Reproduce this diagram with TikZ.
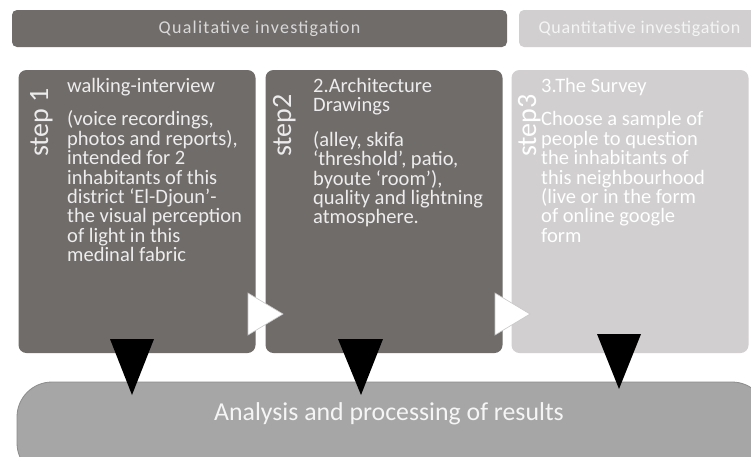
\documentclass[tikz,border=0pt]{standalone}
\usepackage{fontspec}
\setmainfont{Carlito}

\definecolor{stepdark}{RGB}{112,108,106}
\definecolor{steplight}{RGB}{209,207,208}
\definecolor{resultgray}{RGB}{166,166,166}

\tikzset{
  stepbox/.style={rectangle, rounded corners=8pt, minimum width=237pt, minimum height=283pt, inner sep=0pt},
  headbar/.style={rectangle, rounded corners=5pt, minimum height=37pt, inner sep=0pt, font=\fontsize{18}{20}\selectfont},
  steplabel/.style={rotate=90, anchor=base west, inner sep=0pt, font=\fontsize{28}{28}\selectfont, text=white!92!black},
  steptext/.style={anchor=north west, inner sep=0pt, align=left, font=\fontsize{20.5}{19.4}\selectfont, text=white!93!black},
  downtip/.style={fill=black},
  righttip/.style={fill=white, draw=black!22, line width=0.6pt}
}

\begin{document}
\begin{tikzpicture}[x=1pt,y=-1pt]
\clip (0,0) rectangle (751,456);
\fill[white] (0,0) rectangle (751,456);

\node[headbar, fill=stepdark, minimum width=495pt, text=white!85!black] (qual) at (259.5,28.5) {\addfontfeature{LetterSpace=7}Qualitative investigation};
\node[headbar, fill=steplight, minimum width=241pt, text=white!96!black] (quant) at (639.5,28.5) {\addfontfeature{LetterSpace=4}Quantitative investigation};

\node[rectangle, rounded corners=35pt, fill=resultgray, draw=black!45, line width=0.8pt, minimum width=750pt, minimum height=96pt] (resultbar) at (392,430) {};
\node[font=\fontsize{25.8}{26}\selectfont, text=white!96!black] (results) at (389,414) {Analysis and processing of results};

\node[stepbox, fill=stepdark] (box1) at (137,211.5) {};
\node[stepbox, fill=stepdark] (box2) at (384,211.5) {};
\node[stepbox, fill=steplight] (box3) at (630,211.5) {};

\node[steplabel] (lab1) at (48,157) {step 1};
\node[steplabel] (lab2) at (291,157) {step2};
\node[steplabel, text=white] (lab3) at (536,157) {step3};

\node[steptext] (txt1) at (67,78) {walking-interview\\[14pt]
  (voice recordings,\\photos and reports),\\intended for 2\\inhabitants of this\\
  district ‘El-Djoun’-\\the visual perception\\of light in this\\medinal fabric};
\node[steptext] (txt2) at (313,78) {2.Architecture\\Drawings\\[15pt]
  (alley, skifa\\‘threshold’, patio,\\byoute ‘room’),\\quality and lightning\\atmosphere.};
\node[steptext, text=white] (txt3) at (541,78) {3.The Survey\\[14pt]
  Choose a sample of\\people to question\\the inhabitants of\\this neighbourhood\\
  (live or in the form\\of online google\\form};

% arrows between the steps
\filldraw[righttip] (248,293) -- (283,314) -- (248,335) -- cycle;
\filldraw[righttip] (495,293) -- (530,314) -- (495,335) -- cycle;

% arrows down to the results
\fill[downtip] (110,339) -- (154,339) -- (132,395) -- cycle;
\fill[downtip] (338,339) -- (383,339) -- (361,395) -- cycle;
\fill[downtip] (597,334) -- (641,334) -- (619,389) -- cycle;
\end{tikzpicture}
\end{document}
